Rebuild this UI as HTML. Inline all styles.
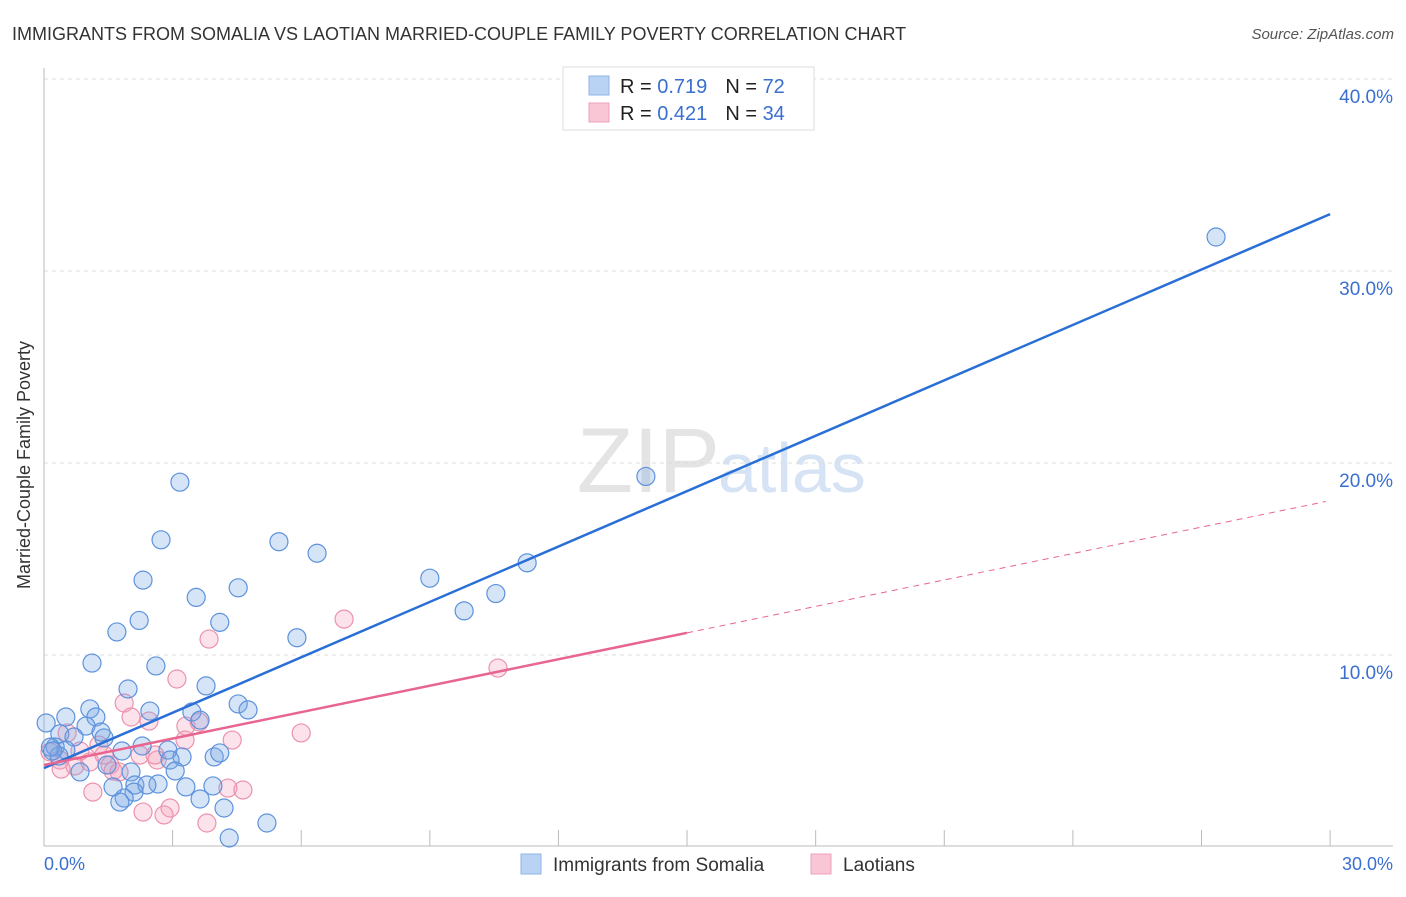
<!DOCTYPE html>
<html><head><meta charset="utf-8"><style>
body{margin:0;background:#fff;font-family:"Liberation Sans",sans-serif}
svg text{font-family:"Liberation Sans",sans-serif}
</style></head><body>
<svg width="1406" height="892" viewBox="0 0 1406 892" id="svg">
<text x="12" y="40" font-size="18" fill="#333">IMMIGRANTS FROM SOMALIA VS LAOTIAN MARRIED-COUPLE FAMILY POVERTY CORRELATION CHART</text>
<text x="1394" y="39" font-size="15" fill="#555" font-style="italic" text-anchor="end">Source: ZipAtlas.com</text>
<text x="720" y="492" font-size="92" fill="#e4e4e4" text-anchor="end" font-family="Liberation Serif">ZIP</text>
<text x="718" y="492" font-size="70" fill="#d5e3f5">atlas</text>
<g id="grid"></g>
<line x1="44" y1="68" x2="44" y2="846" stroke="#bbb"/>
<line x1="44" y1="846" x2="1393" y2="846" stroke="#bbb"/>
<text x="22" y="457" font-size="18" fill="#333" text-anchor="middle" transform="rotate(-90 30 457)">Married-Couple Family Poverty</text>
<text x="44" y="870" font-size="18" fill="#3a6fd0">0.0%</text>
<text x="1393" y="870" font-size="18" fill="#3a6fd0" text-anchor="end">30.0%</text>
<g id="pts"></g>
<g id="lines"></g>
<g>
<rect x="563" y="67" width="251" height="63" fill="#fff" stroke="#ddd"/>
<rect x="589" y="76" width="20" height="19" fill="#b9d3f5" stroke="#8fb4e6"/>
<rect x="589" y="103" width="20" height="19" fill="#f9c6d5" stroke="#eda2ba"/>
<text x="620" y="93" font-size="20" fill="#222">R = <tspan fill="#3a6fd0">0.719</tspan><tspan dx="18">N = </tspan><tspan fill="#3a6fd0">72</tspan></text>
<text x="620" y="120" font-size="20" fill="#222">R = <tspan fill="#3a6fd0">0.421</tspan><tspan dx="18">N = </tspan><tspan fill="#3a6fd0">34</tspan></text>
</g>
<g>
<rect x="521" y="854" width="20" height="20" fill="#b9d3f5" stroke="#8fb4e6"/>
<text x="553" y="871" font-size="19" fill="#333">Immigrants from Somalia</text>
<rect x="811" y="854" width="20" height="20" fill="#f9c6d5" stroke="#eda2ba"/>
<text x="843" y="871" font-size="19" fill="#333">Laotians</text>
</g>
</svg>
<script>
const yTicks=[10,20,30,40];
const yTickLabels=["10.0%","20.0%","30.0%","40.0%"];
const xTicks=[3,6,9,12,15,18,21,24,27,30];
const somaliaX=[27.34,14.04,3.17,2.73,5.48,6.37,11.27,9.0,2.31,4.53,10.54,3.55,9.8,2.22,4.1,1.7,5.9,1.12,2.61,3.78,1.96,4.53,4.76,1.07,2.47,3.45,3.64,0.51,1.21,0.05,0.98,1.33,0.37,0.7,1.4,2.29,0.26,0.51,2.89,1.82,0.35,3.97,3.22,2.94,4.1,1.47,2.03,0.84,3.06,2.12,1.61,2.66,3.94,3.31,2.4,2.1,1.87,1.77,3.64,4.2,5.2,4.32,0.15,0.2];
const somaliaY=[31.77,19.3,19.0,16.0,15.9,15.3,14.8,14.0,13.9,13.5,13.2,13.0,12.3,11.8,11.7,11.2,10.9,9.58,9.43,8.39,8.23,7.45,7.14,7.19,7.08,7.03,6.61,6.77,6.77,6.46,6.3,5.99,5.89,5.73,5.68,5.26,5.21,5.05,5.05,5.0,4.74,4.69,4.69,4.53,4.9,4.27,3.91,3.91,3.96,3.23,3.13,3.28,3.18,3.13,3.23,2.86,2.55,2.34,2.5,2.03,1.25,0.47,5.2,5.0];
const laoX=[7.0,10.59,3.85,3.1,1.87,2.03,2.45,3.31,4.39,6.0,3.62,3.29,0.54,1.28,0.14,0.37,0.72,1.07,1.4,1.54,2.24,2.64,2.59,1.61,0.4,1.14,4.29,4.64,2.31,2.94,2.8,3.8,1.75,0.84];
const laoY=[11.87,9.32,10.83,8.75,7.5,6.77,6.56,6.3,5.57,5.94,6.51,5.57,5.94,5.31,4.95,4.53,4.22,4.43,4.79,4.27,4.79,4.53,4.79,3.96,4.06,2.86,3.07,2.97,1.82,2.03,1.67,1.25,3.91,5.0];
const somaliaFit=[4.11,0.9617];
const laoFit=[4.27,0.459];
const X=v=>44+v*42.87, Y=v=>847-v*19.2;
const NS="http://www.w3.org/2000/svg";
function mk(t,a,p){const e=document.createElementNS(NS,t);for(const k in a)e.setAttribute(k,a[k]);p.appendChild(e);return e;}
const grid=document.getElementById('grid');
yTicks.forEach((v,i)=>{
 const l=mk('line',{x1:44,x2:1393,y1:Y(v),y2:Y(v),stroke:'#ddd','stroke-dasharray':'4,4'},grid);
 
 
 const t=mk('text',{x:1393,y:Y(v)+24,'font-size':19,fill:'#3a6fd0','text-anchor':'end'},grid);
 t.textContent=yTickLabels[i];
 
 
});
xTicks.forEach(v=>{
 const l=mk('line',{x1:X(v),x2:X(v),y1:830,y2:846,stroke:'#bbb'},grid);
 
 
});
const pts=document.getElementById('pts');
laoX.forEach((v,i)=>{
 const c=mk('circle',{cx:X(v),cy:Y(laoY[i]),r:9,fill:'rgba(244,160,185,0.3)',stroke:'#ec92ad','stroke-width':1.2},pts);
 
 
});
somaliaX.forEach((v,i)=>{
 const c=mk('circle',{cx:X(v),cy:Y(somaliaY[i]),r:9,fill:'rgba(120,165,230,0.3)',stroke:'#5d92dc','stroke-width':1.2},pts);
 
 
});
const lines=document.getElementById('lines');
const f=(fit,x)=>fit[0]+fit[1]*x;
let a=mk('line',{x1:X(0),y1:Y(f(somaliaFit,0)),x2:X(30),y2:Y(f(somaliaFit,30)),stroke:'#2a6fd6','stroke-width':2.5},lines);


let b=mk('line',{x1:X(0),y1:Y(f(laoFit,0)),x2:X(15),y2:Y(f(laoFit,15)),stroke:'#e8658f','stroke-width':2.5},lines);


let d=mk('line',{x1:X(15),y1:Y(f(laoFit,15)),x2:X(29.9),y2:Y(f(laoFit,29.9)),stroke:'#e8658f','stroke-width':1,'stroke-dasharray':'6,5'},lines);


</script>
</body></html>
